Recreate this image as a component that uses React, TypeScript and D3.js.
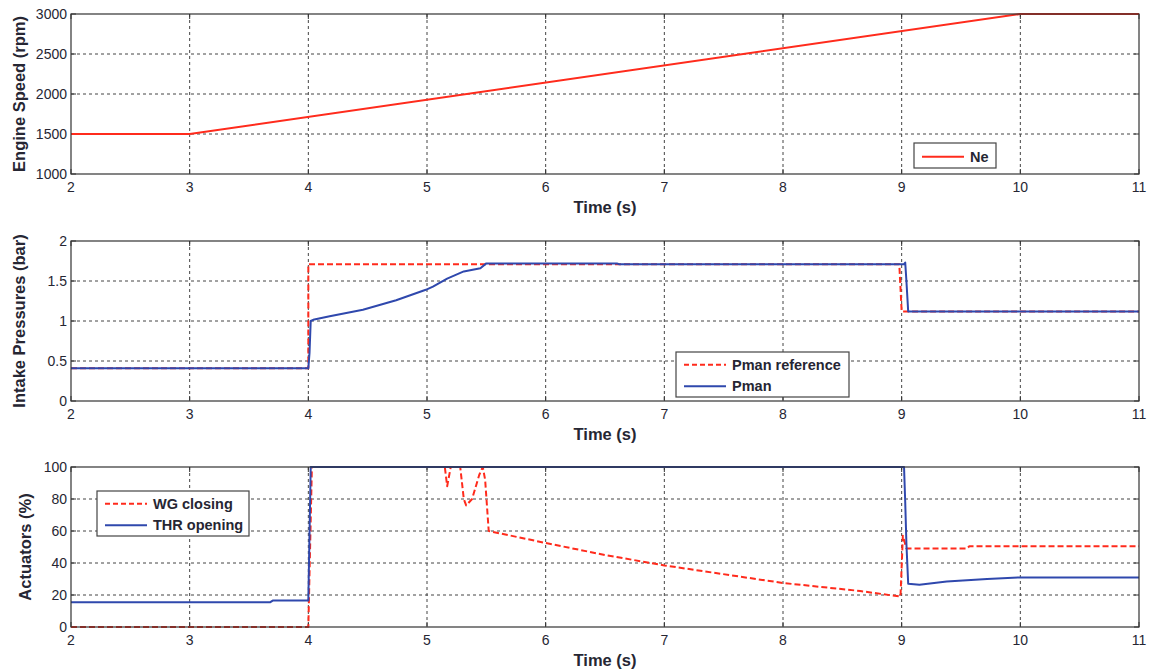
import React from "react";
import * as d3 from "d3";

const timeTicks = [2, 3, 4, 5, 6, 7, 8, 9, 10, 11];

// Panel 1: Engine speed
const neTime = [2, 3, 10, 11];
const neValue = [1500, 1500, 3000, 3000];
const speedTicks = [1000, 1500, 2000, 2500, 3000];

// Panel 2: Intake pressures
const pmanRefTime = [2, 4.0, 4.0, 8.98, 9.0, 11];
const pmanRefValue = [0.41, 0.41, 1.71, 1.71, 1.12, 1.12];
const pmanTime = [2, 4.0, 4.01, 4.02, 4.05, 4.18, 4.46, 4.74, 4.99, 5.05, 5.17, 5.31, 5.45, 5.5, 6.6, 6.62, 9.02, 9.03, 9.04, 9.055, 11];
const pmanValue = [0.41, 0.41, 0.6, 1.0, 1.02, 1.06, 1.14, 1.26, 1.39, 1.43, 1.53, 1.62, 1.66, 1.72, 1.72, 1.71, 1.71, 1.73, 1.5, 1.12, 1.12];
const pressureTicks = [0, 0.5, 1, 1.5, 2];

// Panel 3: Actuators
const wgTime = [2, 4.0, 4.03, 5.15, 5.17, 5.2, 5.28, 5.31, 5.33, 5.38, 5.44, 5.47, 5.49, 5.52, 6.0, 6.5, 7.0, 8.0, 8.65, 8.99, 9.01, 9.04, 9.55, 9.57, 11];
const wgValue = [0, 0, 100, 100, 88, 100, 100, 80, 76, 80, 95, 100, 92, 60, 52.5, 45, 38.5, 27.5, 22.5, 19, 57, 49, 49, 50.5, 50.5];
const thrTime = [2, 3.68, 3.7, 4.0, 4.02, 9.02, 9.03, 9.04, 9.055, 9.15, 9.38, 9.72, 10.0, 11];
const thrValue = [15.5, 15.5, 16.5, 16.5, 100, 100, 78, 52, 27, 26.4, 28.5, 30, 31, 31];
const actuatorTicks = [0, 20, 40, 60, 80, 100];

const RED = "#ff2b1c";
const BLUE = "#2f48ad";
const TEXT = "#262633";
const FONT = "'Liberation Sans', Arial, sans-serif";

type Series = { t: number[]; v: number[]; color: string; dashed?: boolean; label: string };

const X0 = 71;
const X1 = 1139;

function Panel(props: {
  id: string;
  top: number;
  bottom: number;
  yDomain: [number, number];
  yTicks: number[];
  yFormat: (v: number) => string;
  yLabel: string;
  yLabelX: number;
  series: Series[];
  legend: { x: number; y: number; w: number; h: number };
  legendItems: Series[];
}) {
  const { id, top, bottom, yDomain, yTicks, yFormat, yLabel, yLabelX, series, legend, legendItems } = props;
  const x = d3.scaleLinear().domain([2, 11]).range([X0, X1]);
  const y = d3.scaleLinear().domain(yDomain).range([bottom, top]);
  const line = (s: Series) =>
    d3
      .line<number>()
      .x((_, i) => x(s.t[i]))
      .y((_, i) => y(s.v[i]))(s.v) || "";
  const tickLen = 5;
  const rowH = legend.h / (legendItems.length + 0.1);
  return (
    <g>
      <defs>
        <clipPath id={id}>
          <rect x={X0} y={top - 1.5} width={X1 - X0} height={bottom - top + 3} />
        </clipPath>
      </defs>
      {timeTicks.slice(1, -1).map((t) => (
        <line key={"gx" + t} x1={x(t)} x2={x(t)} y1={top} y2={bottom} stroke="#444" strokeWidth={1} strokeDasharray="3,3" />
      ))}
      {yTicks.slice(1, -1).map((v) => (
        <line key={"gy" + v} x1={X0} x2={X1} y1={y(v)} y2={y(v)} stroke="#444" strokeWidth={1} strokeDasharray="3,3" />
      ))}
      {timeTicks.map((t) => (
        <g key={"tx" + t}>
          <line x1={x(t)} x2={x(t)} y1={bottom} y2={bottom - tickLen} stroke="#333" />
          <line x1={x(t)} x2={x(t)} y1={top} y2={top + tickLen} stroke="#333" />
          <text x={x(t)} y={bottom + 18} textAnchor="middle" fontSize={14} fill={TEXT} fontFamily={FONT}>
            {t}
          </text>
        </g>
      ))}
      {yTicks.map((v) => (
        <g key={"ty" + v}>
          <line x1={X0} x2={X0 + tickLen} y1={y(v)} y2={y(v)} stroke="#333" />
          <line x1={X1} x2={X1 - tickLen} y1={y(v)} y2={y(v)} stroke="#333" />
          <text x={X0 - 4} y={y(v) + 5} textAnchor="end" fontSize={14} fill={TEXT} fontFamily={FONT}>
            {yFormat(v)}
          </text>
        </g>
      ))}
      <g clipPath={`url(#${id})`}>
        {series.map((s) => (
          <path
            key={s.label}
            d={line(s)}
            fill="none"
            stroke={s.color}
            strokeWidth={2}
            strokeDasharray={s.dashed ? "6,3" : undefined}
            strokeLinejoin="round"
          />
        ))}
      </g>
      <rect x={X0} y={top} width={X1 - X0} height={bottom - top} fill="none" stroke="#333" strokeWidth={1.2} />
      <text
        x={(X0 + X1) / 2}
        y={bottom + 39}
        textAnchor="middle"
        fontSize={16.5}
        fontWeight="bold"
        fill={TEXT}
        fontFamily={FONT}
      >
        Time (s)
      </text>
      <text
        transform={`translate(${yLabelX},${(top + bottom) / 2}) rotate(-90)`}
        textAnchor="middle"
        fontSize={16.5}
        fontWeight="bold"
        fill={TEXT}
        fontFamily={FONT}
      >
        {yLabel}
      </text>
      <rect x={legend.x} y={legend.y} width={legend.w} height={legend.h} fill="#fff" stroke="#444" strokeWidth={1.2} />
      {legendItems.map((s, i) => {
        const cy = legend.y + rowH * (i + 0.6);
        return (
          <g key={"lg" + s.label}>
            <line
              x1={legend.x + 8}
              x2={legend.x + 50}
              y1={cy}
              y2={cy}
              stroke={s.color}
              strokeWidth={2}
              strokeDasharray={s.dashed ? "5,3" : undefined}
            />
            <text x={legend.x + 56} y={cy + 5} fontSize={14.5} fontWeight="bold" fill={TEXT} fontFamily={FONT}>
              {s.label}
            </text>
          </g>
        );
      })}
    </g>
  );
}

export default function App() {
  const ne: Series = { t: neTime, v: neValue, color: RED, label: "Ne" };
  const pref: Series = { t: pmanRefTime, v: pmanRefValue, color: RED, dashed: true, label: "Pman reference" };
  const pman: Series = { t: pmanTime, v: pmanValue, color: BLUE, label: "Pman" };
  const wg: Series = { t: wgTime, v: wgValue, color: RED, dashed: true, label: "WG closing" };
  const thr: Series = { t: thrTime, v: thrValue, color: BLUE, label: "THR opening" };
  return (
    <svg width={1151} height={669} style={{ position: "absolute", left: 0, top: 0, background: "#fff" }}>
      <rect x={0} y={0} width={1151} height={669} fill="#fff" />
      <Panel
        id="c1"
        top={14}
        bottom={174}
        yDomain={[1000, 3000]}
        yTicks={speedTicks}
        yFormat={(v) => String(v)}
        yLabel="Engine Speed (rpm)"
        yLabelX={25}
        series={[ne]}
        legend={{ x: 914, y: 143, w: 82, h: 25 }}
        legendItems={[ne]}
      />
      <Panel
        id="c2"
        top={241}
        bottom={401}
        yDomain={[0, 2]}
        yTicks={pressureTicks}
        yFormat={(v) => String(v)}
        yLabel="Intake Pressures (bar)"
        yLabelX={25}
        series={[pref, pman]}
        legend={{ x: 676, y: 352, w: 173, h: 45 }}
        legendItems={[pref, pman]}
      />
      <Panel
        id="c3"
        top={467}
        bottom={627}
        yDomain={[0, 100]}
        yTicks={actuatorTicks}
        yFormat={(v) => String(v)}
        yLabel="Actuators (%)"
        yLabelX={31}
        series={[wg, thr]}
        legend={{ x: 97, y: 491, w: 152, h: 45 }}
        legendItems={[wg, thr]}
      />
    </svg>
  );
}
